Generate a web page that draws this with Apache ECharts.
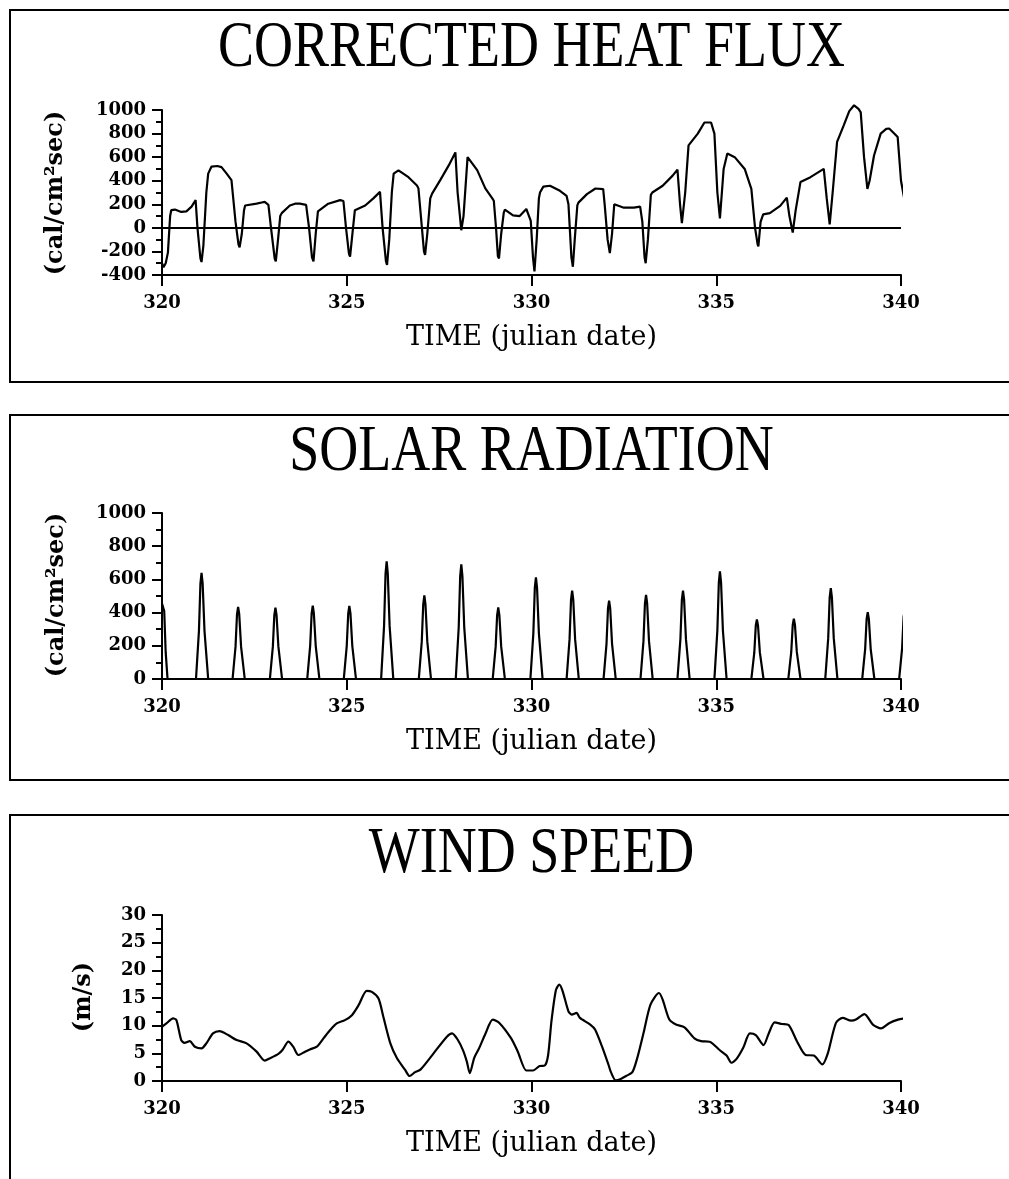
<!DOCTYPE html>
<html>
<head>
<meta charset="utf-8">
<title>Heat flux, solar radiation and wind speed</title>
<script src="https://cdn.jsdelivr.net/npm/echarts@6/dist/echarts.min.js"></script>
<style>
  html, body { margin: 0; padding: 0; background: #fff; }
  #main { width: 1009px; height: 1179px; }
</style>
</head>
<body>
<div id="main"></div>
<script>
// ---- data: [julian day, value] ----
const heatFlux = [
  [320.00,-300],[320.04,-335],[320.10,-300],[320.16,-210],[320.22,100],[320.25,150],[320.35,155],[320.52,135],
  [320.66,140],[320.80,180],[320.91,235],[320.96,0],[321.04,-260],[321.07,-290],[321.12,-150],[321.20,300],
  [321.25,460],[321.34,520],[321.50,525],[321.61,515],[321.75,460],[321.88,405],[321.93,390],[321.99,50],
  [322.07,-140],[322.10,-165],[322.16,-50],[322.22,150],[322.25,190],[322.56,205],[322.70,215],[322.78,220],
  [322.88,195],[322.95,0],[323.05,-260],[323.08,-285],[323.14,-100],[323.20,100],[323.24,125],[323.46,190],
  [323.60,205],[323.73,205],[323.90,195],[323.98,0],[324.06,-250],[324.10,-285],[324.16,-50],[324.22,140],
  [324.50,205],[324.82,235],[324.91,228],[324.98,0],[325.06,-220],[325.09,-245],[325.16,-30],[325.22,150],
  [325.26,165],[325.50,190],[325.72,250],[325.90,305],[325.97,0],[326.06,-280],[326.09,-315],[326.15,-100],
  [326.22,300],[326.27,460],[326.40,488],[326.67,430],[326.90,360],[326.94,335],[327.02,50],[327.09,-200],
  [327.12,-230],[327.18,-50],[327.26,250],[327.31,290],[327.53,405],[327.76,530],[327.94,640],[328.00,300],
  [328.10,-20],[328.12,-35],[328.16,100],[328.27,600],[328.30,615],[328.53,490],[328.75,335],[328.93,255],
  [328.98,230],[329.04,0],[329.09,-240],[329.12,-260],[329.18,-50],[329.25,130],[329.28,155],[329.50,106],
  [329.68,100],[329.86,160],[329.92,110],[329.98,60],[330.04,-250],[330.08,-370],[330.14,-100],[330.20,250],
  [330.23,300],[330.32,350],[330.50,357],[330.77,314],[330.95,271],[331.00,200],[331.08,-250],[331.12,-330],
  [331.17,-100],[331.24,190],[331.27,214],[331.50,286],[331.73,334],[331.94,329],[331.98,200],[332.06,-100],
  [332.12,-215],[332.18,-50],[332.24,200],[332.27,214],[332.50,171],[332.77,171],[332.94,180],[333.00,50],
  [333.06,-250],[333.09,-300],[333.15,-100],[333.23,280],[333.27,300],[333.55,357],[333.82,443],[333.95,494],
  [334.02,200],[334.07,40],[334.10,30],[334.16,300],[334.25,700],[334.27,714],[334.50,800],[334.68,894],
  [334.86,894],[334.95,800],[335.03,300],[335.10,80],[335.12,77],[335.20,500],[335.30,630],[335.50,600],
  [335.77,500],[335.95,330],[336.05,0],[336.12,-140],[336.14,-157],[336.20,50],[336.27,114],[336.45,125],
  [336.73,186],[336.91,257],[336.98,100],[337.07,-40],[337.09,-50],[337.15,150],[337.28,390],[337.30,400],
  [337.55,430],[337.91,500],[337.99,250],[338.07,30],[338.09,20],[338.15,300],[338.27,730],[338.45,870],
  [338.60,990],[338.73,1040],[338.85,1010],[338.91,980],[339.00,600],[339.09,330],[339.15,400],[339.27,614],
  [339.45,800],[339.60,840],[339.68,843],[339.85,790],[339.91,770],[340.00,400],[340.09,243],[340.14,200]
];

const solarRadiation = [
  [320.00,455],[320.03,460],[320.06,410],[320.10,160],[320.15,0],
  [320.92,0],[321.00,290],[321.04,575],[321.07,640],[321.10,575],[321.15,290],[321.25,0],
  [321.91,0],[321.99,195],[322.03,390],[322.06,435],[322.09,390],[322.14,195],[322.24,0],
  [322.92,0],[323.00,195],[323.04,385],[323.07,430],[323.10,385],[323.15,195],[323.25,0],
  [323.93,0],[324.01,200],[324.05,395],[324.08,442],[324.11,395],[324.16,200],[324.26,0],
  [324.92,0],[325.00,200],[325.04,395],[325.07,440],[325.10,395],[325.15,200],[325.25,0],
  [325.93,0],[326.01,320],[326.05,635],[326.08,708],[326.11,635],[326.16,320],[326.26,0],
  [326.95,0],[327.03,225],[327.07,450],[327.10,503],[327.13,450],[327.18,225],[327.28,0],
  [327.95,0],[328.03,310],[328.07,620],[328.10,690],[328.13,620],[328.18,310],[328.28,0],
  [328.95,0],[329.03,195],[329.07,385],[329.10,432],[329.13,385],[329.18,195],[329.28,0],
  [329.97,0],[330.05,275],[330.09,550],[330.12,612],[330.15,550],[330.20,275],[330.30,0],
  [330.95,0],[331.03,240],[331.07,478],[331.10,532],[331.13,478],[331.18,240],[331.28,0],
  [331.95,0],[332.03,212],[332.07,425],[332.10,472],[332.13,425],[332.18,212],[332.28,0],
  [332.95,0],[333.03,228],[333.07,455],[333.10,507],[333.13,455],[333.18,228],[333.28,0],
  [333.95,0],[334.03,240],[334.07,478],[334.10,532],[334.13,478],[334.18,240],[334.28,0],
  [334.95,0],[335.03,292],[335.07,582],[335.10,648],[335.13,582],[335.18,292],[335.28,0],
  [335.95,0],[336.03,160],[336.07,322],[336.10,358],[336.13,322],[336.18,160],[336.28,0],
  [336.95,0],[337.03,163],[337.07,326],[337.10,363],[337.13,326],[337.18,163],[337.28,0],
  [337.95,0],[338.03,246],[338.07,492],[338.10,548],[338.13,492],[338.18,246],[338.28,0],
  [338.95,0],[339.03,180],[339.07,362],[339.10,402],[339.13,362],[339.18,180],[339.28,0],
  [339.95,0],[340.03,185],[340.07,372],[340.10,415],[340.13,380],[340.14,345]
];

const windSpeed = [
  [320.00,9.8],[320.12,10.4],[320.30,11.3],[320.39,11.0],[320.52,7.4],[320.61,6.9],[320.75,7.2],[320.89,6.2],
  [321.07,5.9],[321.20,6.8],[321.38,8.6],[321.56,9.0],[321.79,8.3],[322.02,7.4],[322.29,6.8],[322.56,5.3],
  [322.78,3.7],[322.92,4.1],[323.15,4.9],[323.26,5.6],[323.42,7.1],[323.55,6.2],[323.69,4.7],[323.87,5.3],
  [324.00,5.7],[324.19,6.2],[324.37,7.7],[324.55,9.2],[324.73,10.4],[324.95,11.0],[325.14,11.9],[325.32,13.7],
  [325.54,16.3],[325.68,16.1],[325.86,14.9],[325.99,11.6],[326.18,6.8],[326.36,4.1],[326.58,2.0],[326.70,0.9],
  [326.85,1.6],[327.00,2.1],[327.35,5.0],[327.71,8.0],[327.85,8.6],[328.00,7.5],[328.15,5.5],[328.25,3.5],
  [328.33,1.4],[328.45,4.2],[328.58,5.9],[328.75,8.5],[328.95,11.1],[329.13,10.5],[329.45,7.7],[329.63,5.3],
  [329.86,1.9],[330.04,1.9],[330.22,2.7],[330.36,2.8],[330.45,4.7],[330.54,10.8],[330.66,16.4],[330.75,17.4],
  [330.84,16.3],[331.00,12.6],[331.09,12.0],[331.22,12.3],[331.31,11.4],[331.59,10.2],[331.72,9.3],[331.91,6.2],
  [332.09,2.8],[332.15,1.6],[332.28,0.1],[332.40,0.3],[332.56,0.9],[332.73,1.6],[332.86,4.1],[333.04,8.9],
  [333.22,13.8],[333.45,15.9],[333.55,14.7],[333.73,11.1],[333.91,10.2],[334.14,9.7],[334.41,7.7],[334.59,7.2],
  [334.82,7.1],[335.09,5.6],[335.28,4.6],[335.41,3.3],[335.55,4.0],[335.73,6.0],[335.91,8.6],[336.07,8.3],
  [336.28,6.5],[336.42,8.6],[336.58,10.6],[336.78,10.3],[336.96,10.1],[337.19,7.1],[337.42,4.7],[337.64,4.6],
  [337.87,3.0],[338.01,4.8],[338.24,10.5],[338.42,11.4],[338.65,10.9],[338.78,11.1],[339.01,12.1],[339.24,10.2],
  [339.46,9.5],[339.69,10.5],[339.92,11.1],[340.15,11.4]
];

// ---- axis settings ----
const dayRange = [320, 340];
const dayStep = 5;
const heatFluxRange = [-400, 1000];
const radiationRange = [0, 1000];
const fluxStep = 200;
const windRange = [0, 30];
const windStep = 5;

const panelTitles = ['CORRECTED HEAT FLUX', 'SOLAR RADIATION', 'WIND SPEED'];
const yNames = ['(cal/cm\u00b2sec)', '(cal/cm\u00b2sec)', '(m/s)'];
const xName = 'TIME (julian date)';

// ---- layout ----
const gridLeft = 162, gridWidth = 739;
const gridTops = [110, 513, 915];
const gridHeights = [165, 166, 166];
const frames = [[10, 10, 1010, 372], [10, 415, 1010, 365], [10, 815, 1010, 420]];
const titleY = [49, 453, 855];
const yNamePos = [[56, 193], [57, 595], [84, 997]];

const BLACK = '#000';
const tickFont = '"DejaVu Serif", serif';

function xAxisFor(i) {
  return {
    gridIndex: i, type: 'value', min: dayRange[0], max: dayRange[1], interval: dayStep,
    name: xName, nameLocation: 'middle', nameGap: 49,
    nameTextStyle: { fontFamily: tickFont, fontSize: 27, color: BLACK },
    axisLine: { onZero: false, lineStyle: { color: BLACK, width: 2 } },
    axisTick: { length: 11, lineStyle: { color: BLACK, width: 2 } },
    axisLabel: { margin: 19, fontFamily: tickFont, fontWeight: 'bold', fontSize: 18, color: BLACK,
                 formatter: v => String(v) },
    splitLine: { show: false }
  };
}

function yAxisFor(i, range, step) {
  return {
    gridIndex: i, type: 'value', min: range[0], max: range[1], interval: step,
    axisLine: { show: true, lineStyle: { color: BLACK, width: 2 } },
    axisTick: { show: true, length: 10, lineStyle: { color: BLACK, width: 2 } },
    minorTick: { show: true, splitNumber: 2, length: 6, lineStyle: { color: BLACK, width: 2 } },
    axisLabel: { margin: 16, fontFamily: tickFont, fontWeight: 'bold', fontSize: 18, color: BLACK,
                 formatter: v => String(v) },
    splitLine: { show: false }
  };
}

function lineSeries(i, data, extra) {
  return Object.assign({
    type: 'line', xAxisIndex: i, yAxisIndex: i, data: data,
    showSymbol: false, symbol: 'none', clip: false, animation: false,
    lineStyle: { color: BLACK, width: 2.2 }
  }, extra || {});
}

const graphics = [];
frames.forEach(f => graphics.push({
  type: 'rect', silent: true,
  shape: { x: f[0], y: f[1], width: f[2], height: f[3] },
  style: { fill: 'none', stroke: BLACK, lineWidth: 2 }
}));
panelTitles.forEach((t, i) => graphics.push({
  type: 'text', silent: true, x: gridLeft + gridWidth / 2, y: titleY[i], scaleY: 1.2,
  style: { text: t, font: '54px "Liberation Serif", serif', fill: BLACK,
           textAlign: 'center', textVerticalAlign: 'middle', align: 'center', verticalAlign: 'middle' }
}));
yNames.forEach((t, i) => graphics.push({
  type: 'text', silent: true, x: yNamePos[i][0], y: yNamePos[i][1], rotation: Math.PI / 2,
  style: { text: t, font: 'bold 24px "DejaVu Serif", serif', fill: BLACK,
           textAlign: 'center', textVerticalAlign: 'middle', align: 'center', verticalAlign: 'middle' }
}));

const option = {
  backgroundColor: '#fff',
  animation: false,
  grid: gridTops.map((top, i) => ({ left: gridLeft, top: top, width: gridWidth, height: gridHeights[i] })),
  xAxis: [xAxisFor(0), xAxisFor(1), xAxisFor(2)],
  yAxis: [
    yAxisFor(0, heatFluxRange, fluxStep),
    yAxisFor(1, radiationRange, fluxStep),
    yAxisFor(2, windRange, windStep)
  ],
  series: [
    lineSeries(0, heatFlux, {
      markLine: {
        silent: true, symbol: 'none', animation: false,
        label: { show: false },
        lineStyle: { color: BLACK, width: 2, type: 'solid' },
        data: [{ yAxis: 0 }]
      }
    }),
    lineSeries(1, solarRadiation),
    lineSeries(2, windSpeed, { smooth: 0.25 })
  ],
  graphic: graphics
};

const chart = echarts.init(document.getElementById('main'));
chart.setOption(option);
</script>
</body>
</html>
